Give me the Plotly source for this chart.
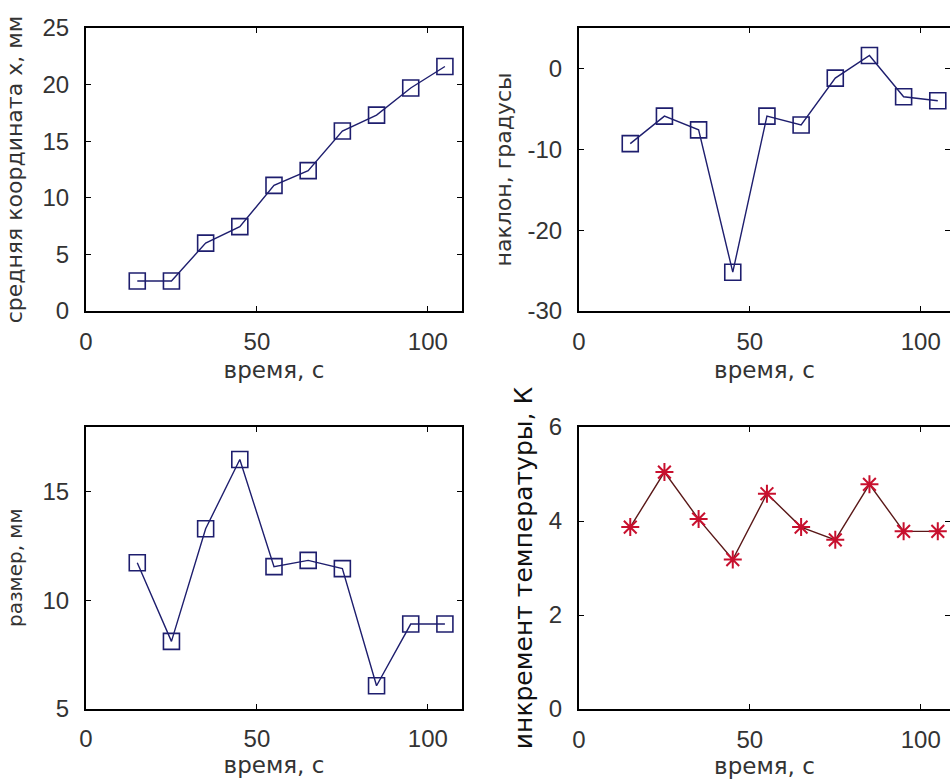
import plotly.graph_objects as go

time_s = [15, 25, 35, 45, 55, 65, 75, 85, 95, 105]
mean_x_mm = [2.65, 2.65, 6.0, 7.45, 11.1, 12.4, 15.9, 17.3, 19.7, 21.6]
tilt_deg = [-9.3, -5.9, -7.6, -25.2, -5.9, -7.0, -1.2, 1.6, -3.5, -4.0]
size_mm = [11.73, 8.1, 13.3, 16.5, 11.55, 11.84, 11.46, 6.05, 8.9, 8.9]
temp_inc_K = [3.87, 5.04, 4.04, 3.18, 4.58, 3.87, 3.6, 4.78, 3.78, 3.78]

x_ticks = [0, 50, 100]
y1_ticks = [0, 5, 10, 15, 20, 25]
y2_ticks = [-30, -20, -10, 0]
y2_ticktext = ["-30", "-20", "-10", "0"]
y3_ticks = [5, 10, 15]
y4_ticks = [0, 2, 4, 6]

xlabel = "время, с"
ylabels = ["средняя координата х, мм", "наклон, градусы", "размер, мм", "инкремент температуры, К"]

W, H = 950, 780
navy = "#1e1e6e"
red = "#c8102e"
redline = "#5a1818"

fig = go.Figure()

def px_x(a, b):
    return [a / W, b / W]

def px_y(top, bottom):
    return [1 - bottom / H, 1 - top / H]

sq = dict(symbol="square-open", size=16, color=navy, line=dict(width=1.6))
fig.add_trace(go.Scatter(x=time_s, y=mean_x_mm, mode="lines+markers",
                         line=dict(color=navy, width=1.4), marker=sq,
                         xaxis="x", yaxis="y", showlegend=False))
fig.add_trace(go.Scatter(x=time_s, y=tilt_deg, mode="lines+markers",
                         line=dict(color=navy, width=1.4), marker=sq,
                         xaxis="x2", yaxis="y2", showlegend=False))
fig.add_trace(go.Scatter(x=time_s, y=size_mm, mode="lines+markers",
                         line=dict(color=navy, width=1.4), marker=sq,
                         xaxis="x3", yaxis="y3", showlegend=False))
fig.add_trace(go.Scatter(x=time_s, y=temp_inc_K, mode="lines+markers",
                         line=dict(color=redline, width=1.4),
                         marker=dict(symbol="asterisk-open", size=15, color=red, line=dict(width=2, color=red)),
                         xaxis="x4", yaxis="y4", showlegend=False))

tickfont = dict(family="Liberation Sans", size=24, color="#333333")
titlefont = dict(family="DejaVu Sans", size=22, color="#333333")

def xax(domain, anchor, rng, standoff):
    return dict(domain=domain, anchor=anchor, range=rng, tickvals=x_ticks,
                showgrid=False, zeroline=False, showline=True, mirror="ticks",
                linecolor="black", linewidth=2, ticks="inside", ticklen=5, tickcolor="black",
                tickfont=tickfont, ticklabelstandoff=8, automargin=False,
                title=dict(text=xlabel, font=dict(family="DejaVu Sans", size=23, color="#333333"),
                           standoff=standoff))

def yax(domain, anchor, title, rng, tv, tt=None, tfont=titlefont, standoff=16):
    d = dict(domain=domain, anchor=anchor, range=rng, tickvals=tv,
             showgrid=False, zeroline=False, showline=True, mirror="ticks",
             linecolor="black", linewidth=2, ticks="inside", ticklen=5, tickcolor="black",
             tickfont=tickfont, ticklabelstandoff=10, automargin=False,
             title=dict(text=title, font=tfont, standoff=standoff))
    if tt is not None:
        d["ticktext"] = tt
    return d

right_max = (W - 579) / (341.7 / 100)

fig.update_layout(
    width=W, height=H, margin=dict(l=0, r=0, t=0, b=0),
    paper_bgcolor="white", plot_bgcolor="white",
    xaxis=xax(px_x(86, 462), "y", [0, 110], 8),
    yaxis=yax(px_y(28, 311), "x", ylabels[0], [0, 25], y1_ticks, standoff=14),
    xaxis2=xax(px_x(579, 950), "y2", [0, right_max], 8),
    yaxis2=yax(px_y(28, 311), "x2", ylabels[1], [-30, 5], y2_ticks, y2_ticktext, standoff=10),
    xaxis3=xax(px_x(86, 462), "y3", [0, 110], 4),
    yaxis3=yax(px_y(427, 708.5), "x3", ylabels[2], [5, 18], y3_ticks,
               tfont=dict(family="DejaVu Sans", size=20, color="#333333"), standoff=14),
    xaxis4=xax(px_x(579, 950), "y4", [0, right_max], 4),
    yaxis4=yax(px_y(427, 709), "x4", ylabels[3], [0, 6], y4_ticks,
               tfont=dict(family="DejaVu Sans", size=25, color="#111111"), standoff=9),
)

fig.write_html("out.html")
